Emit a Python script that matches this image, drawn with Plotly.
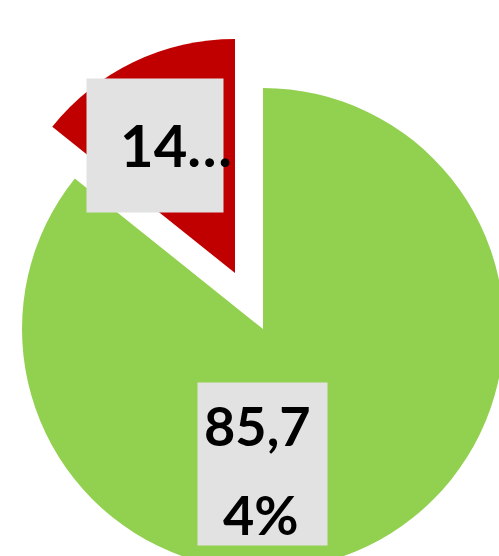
import plotly.graph_objects as go

# canvas slightly larger than the window: the reference crops the pie at right/bottom
W, H = 505, 571

# data
categories = ["Verde", "Rosso"]
values = [85.74, 14.26]
colors = ["#92D050", "#C00000"]

def fmt(v):
    return f"{v:.2f}".replace(".", ",") + "%"

green_label = fmt(values[0])          # "85,74%"
red_label = fmt(values[1])[:2] + "…"  # truncated "14…"

TRANSP = "rgba(0,0,0,0)"

def dom(cx, cy, r):
    return dict(x=[(cx - r) / W, (cx + r) / W], y=[1 - (cy + r) / H, 1 - (cy - r) / H])

fig = go.Figure()
# green slice (in place)
fig.add_trace(go.Pie(
    labels=categories, values=values, sort=False, direction="clockwise", rotation=0,
    marker=dict(colors=[colors[0], TRANSP], line=dict(width=0)),
    textinfo="none", hoverinfo="skip", showlegend=False,
    domain=dom(263, 329, 241),
))
# red slice (exploded)
fig.add_trace(go.Pie(
    labels=categories, values=values, sort=False, direction="clockwise", rotation=0,
    marker=dict(colors=[TRANSP, colors[1]], line=dict(width=0)),
    textinfo="none", hoverinfo="skip", showlegend=False,
    domain=dom(235, 273, 234),
))

FONT = "Lato"
BOX = "#E2E2E3"

def px(x, y):
    return dict(x=x / W, y=1 - y / H, xref="paper", yref="paper", xanchor="center", yanchor="middle", showarrow=False)

annotations = [
    dict(**px(155, 145.5), text="", width=136, height=133, bgcolor=BOX, borderpad=0),
    dict(**px(176, 144), text=red_label, font=dict(family=FONT, size=58, color="#000000", weight="bold")),
    dict(**px(262.5, 464), text="", width=129, height=162, bgcolor=BOX, borderpad=0),
    dict(**px(257, 425), text=green_label[:4], font=dict(family=FONT, size=54, color="#000000", weight="bold")),
    dict(**px(261, 514), text=green_label[4:], font=dict(family=FONT, size=54, color="#000000", weight="bold")),
]

fig.update_layout(
    width=W, height=H, autosize=False,
    margin=dict(l=0, r=0, t=0, b=0),
    paper_bgcolor="white", plot_bgcolor="white",
    annotations=annotations,
)
fig.write_html(
    "out.html",
    config={"displayModeBar": False},
    post_script="document.body.style.margin='0';document.body.style.overflow='hidden';",
)
